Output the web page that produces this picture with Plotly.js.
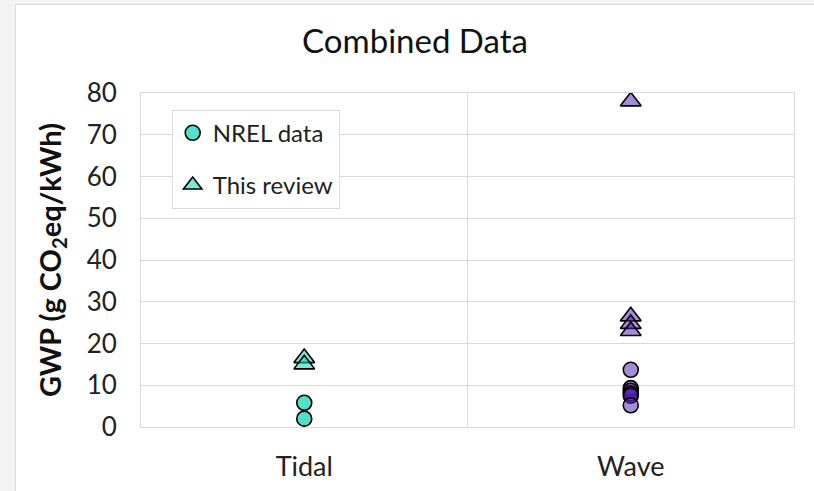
<!DOCTYPE html>
<html>
<head>
<meta charset="utf-8">
<script src="https://cdn.plot.ly/plotly-3.0.1.min.js"></script>
<style>
  html, body { margin: 0; padding: 0; background: #f3f3f3; width: 814px; height: 491px; overflow: hidden; }
  #chart { position: absolute; left: 15px; top: 4px; width: 798px; height: 486px; background: #ffffff;
           border-left: 1px solid #dadada; border-top: 1px solid #dadada; }
</style>
</head>
<body>
<div id="chart"></div>
<script>
// ---- data ----
const categories = ['Tidal', 'Wave'];
const nrelTidal = [5.8, 2.0];
const nrelWave = [13.7, 9.3, 8.7, 8.0, 7.5, 5.2];
const reviewTidal = [16.5, 15.0];
const reviewWave = [78.0, 26.5, 24.7, 23.0];
const seriesNames = ['NREL data', 'This review'];
const yTicks = [0, 10, 20, 30, 40, 50, 60, 70, 80];

// ---- styles ----
const tealCircle = 'rgba(20,210,180,0.72)';
const tealTri = 'rgba(20,210,180,0.55)';
const purpleCircle = 'rgba(75,25,175,0.5)';
const purpleTri = 'rgba(75,25,175,0.5)';
const edge = { color: '#000000', width: 1.6 };
const FONT = 'Lato, "Open Sans", "Noto Sans", sans-serif';

function rep(cat, arr) { return arr.map(() => cat); }

const traces = [
  { type: 'scatter', mode: 'markers', name: seriesNames[0], legendgroup: 'nrel',
    x: rep(categories[0], nrelTidal), y: nrelTidal,
    marker: { symbol: 'circle', size: 15, color: tealCircle, line: edge } },
  { type: 'scatter', mode: 'markers', name: seriesNames[0], legendgroup: 'nrel', showlegend: false,
    x: rep(categories[1], nrelWave), y: nrelWave,
    marker: { symbol: 'circle', size: 15, color: purpleCircle, line: edge } },
  { type: 'scatter', mode: 'markers', name: seriesNames[1], legendgroup: 'review',
    x: rep(categories[0], reviewTidal), y: reviewTidal,
    marker: { symbol: 'triangle-up', size: 18, color: tealTri, line: edge } },
  { type: 'scatter', mode: 'markers', name: seriesNames[1], legendgroup: 'review', showlegend: false,
    x: rep(categories[1], reviewWave), y: reviewWave,
    marker: { symbol: 'triangle-up', size: 18, color: purpleTri, line: edge } }
];

const layout = {
  width: 798, height: 486,
  paper_bgcolor: '#ffffff', plot_bgcolor: '#ffffff',
  margin: { l: 125, r: 20, t: 88, b: 64 },
  font: { family: FONT, color: '#222222' },
  title: { text: 'Combined Data', font: { family: FONT, size: 33, color: '#111111' },
           x: 0.5, xref: 'container', xanchor: 'center', y: 0.925, yref: 'container', yanchor: 'middle' },
  showlegend: true,
  legend: {
    x: 0.047, y: 0.95, xanchor: 'left', yanchor: 'top',
    bgcolor: '#ffffff', bordercolor: '#d9d9d9', borderwidth: 1,
    font: { family: FONT, size: 24, color: '#222222' },
    traceorder: 'grouped', tracegroupgap: 18
  },
  xaxis: {
    type: 'category', categoryorder: 'array', categoryarray: categories,
    range: [-0.5, 1.5], tickson: 'boundaries', ticks: '',
    showgrid: true, gridcolor: '#d9d9d9', gridwidth: 1,
    showline: true, mirror: true, linecolor: '#d9d9d9', linewidth: 1,
    tickfont: { family: FONT, size: 27, color: '#222222' },
    ticklabelstandoff: 16, fixedrange: true
  },
  yaxis: {
    range: [0, 80], tickvals: yTicks, ticktext: yTicks.map(String), ticks: '',
    showgrid: true, gridcolor: '#d9d9d9', gridwidth: 1, zeroline: false,
    showline: true, mirror: true, linecolor: '#d9d9d9', linewidth: 1,
    tickfont: { family: FONT, size: 26, color: '#222222' },
    ticklabelstandoff: 18,
    title: { text: '<b>GWP (g CO<sub>2</sub>eq/kWh)</b>', font: { family: FONT, size: 29, color: '#111111' }, standoff: 16 },
    fixedrange: true
  }
};

Plotly.newPlot('chart', traces, layout, { displayModeBar: false, staticPlot: true });
</script>
</body>
</html>
